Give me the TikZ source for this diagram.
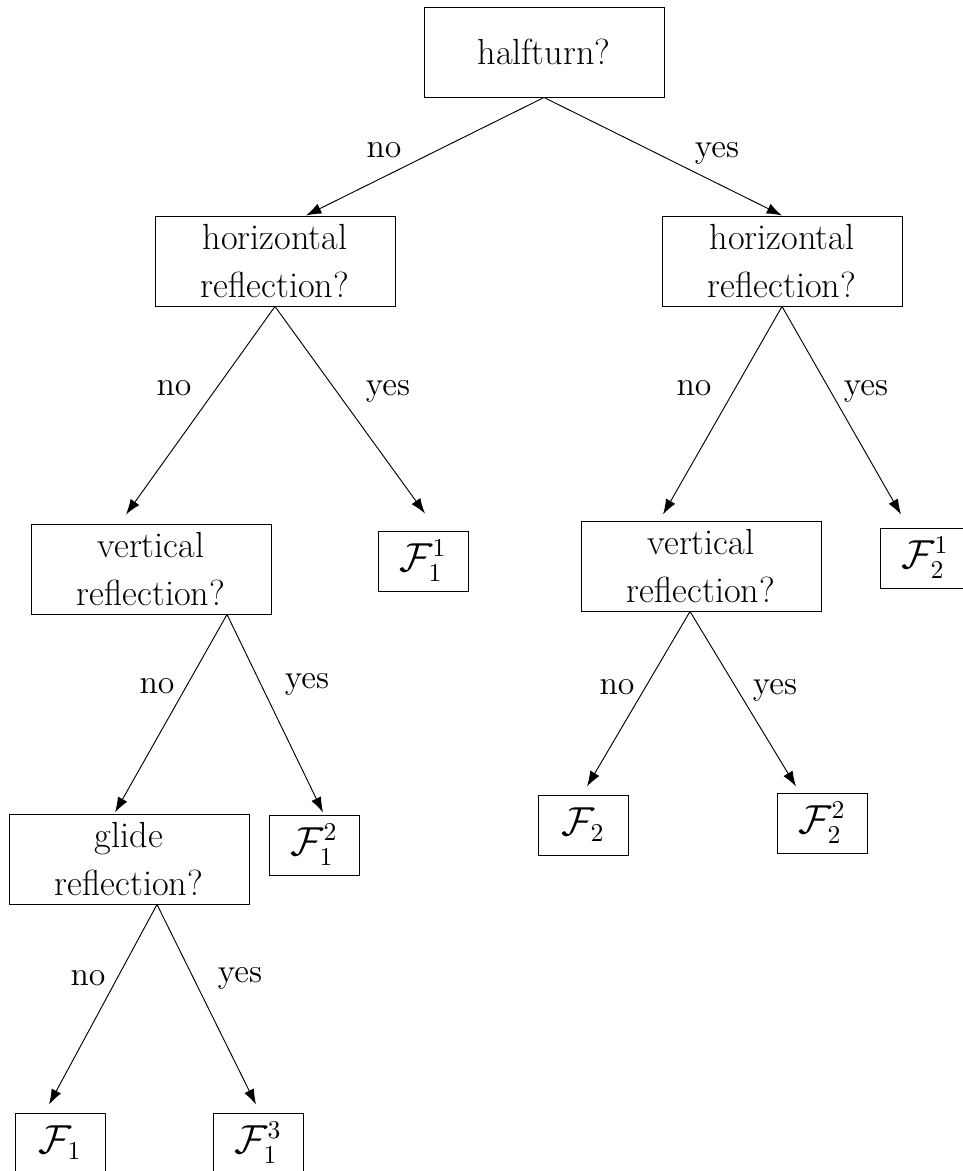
\documentclass[tikz,border=0pt]{standalone}
\usepackage{tikz}
\usepackage{amssymb}
\usetikzlibrary{arrows.meta, calc}

\begin{document}
\begin{tikzpicture}[
    x=0.015cm, y=-0.015cm,
    question/.style={rectangle, draw, minimum width=3.6cm, minimum height=1.35cm, inner sep=0pt, align=center, font={\fontsize{15.5}{20.5}\selectfont}},
    leaf/.style={rectangle, draw, minimum width=1.35cm, minimum height=0.9cm, inner sep=0pt, font={\fontsize{16}{19}\selectfont}},
    answer/.style={anchor=base, font=\Large},
    arrow/.style={-{Latex[length=2.3mm, width=1.6mm]}}
]
\useasboundingbox (0,0) rectangle (962,1171);
\node[question] (turn) at (544,52) {halfturn?};
\node[question] (hrefA) at (275,261) {horizontal\\reflection?};
\node[question] (hrefB) at (782,261) {horizontal\\reflection?};
\node[question] (vrefA) at (151,569) {vertical\\reflection?};
\node[question] (vrefB) at (701,566) {vertical\\reflection?};
\node[question] (glide) at (129,859) {glide\\reflection?};
\node[leaf] (f11) at (423,561) {$\mathcal{F}_1^1$};
\node[leaf] (f21) at (925,558) {$\mathcal{F}_2^1$};
\node[leaf] (f12) at (314,845) {$\mathcal{F}_1^2$};
\node[leaf] (f2) at (583,825) {$\mathcal{F}_2$};
\node[leaf] (f22) at (822,823) {$\mathcal{F}_2^2$};
\node[leaf] (f1) at (60,1143) {$\mathcal{F}_1$};
\node[leaf] (f13) at (258,1143) {$\mathcal{F}_1^3$};
\draw[arrow] (turn.south) -- ($(hrefA.north)+(31,0)$);
\draw[arrow] (turn.south) -- (hrefB.north);
\draw[arrow] (hrefA.south) -- ($(vrefA.north)+(-25,-9)$);
\draw[arrow] (hrefA.south) -- ($(f11.north)+(2,-17)$);
\draw[arrow] (hrefB.south) -- ($(vrefB.north)+(-38,-6)$);
\draw[arrow] (hrefB.south) -- ($(f21.north)+(-24,-13)$);
\draw[arrow] ($(vrefA.south)+(76,0)$) -- ($(glide.north)+(-14,-1)$);
\draw[arrow] ($(vrefA.south)+(76,0)$) -- ($(f12.north)+(9,-2)$);
\draw[arrow] ($(vrefB.south)+(-11,0)$) -- ($(f2.north)+(4,-8)$);
\draw[arrow] ($(vrefB.south)+(-11,0)$) -- ($(f22.north)+(-26,-6)$);
\draw[arrow] ($(glide.south)+(28,0)$) -- ($(f1.north)+(-11,-8)$);
\draw[arrow] ($(glide.south)+(28,0)$) -- ($(f13.north)+(-2,-8)$);
\node[answer] (no1) at (384,158) {no};
\node[answer] (yes1) at (717,158) {yes};
\node[answer] (no2a) at (174,396) {no};
\node[answer] (yes2a) at (388,396) {yes};
\node[answer] (no2b) at (694,396) {no};
\node[answer] (yes2b) at (866,396) {yes};
\node[answer] (no3a) at (157,693) {no};
\node[answer] (yes3a) at (307,688) {yes};
\node[answer] (no3b) at (617,694) {no};
\node[answer] (yes3b) at (775,694) {yes};
\node[answer] (no4) at (88,985) {no};
\node[answer] (yes4) at (240,982) {yes};
\end{tikzpicture}
\end{document}
